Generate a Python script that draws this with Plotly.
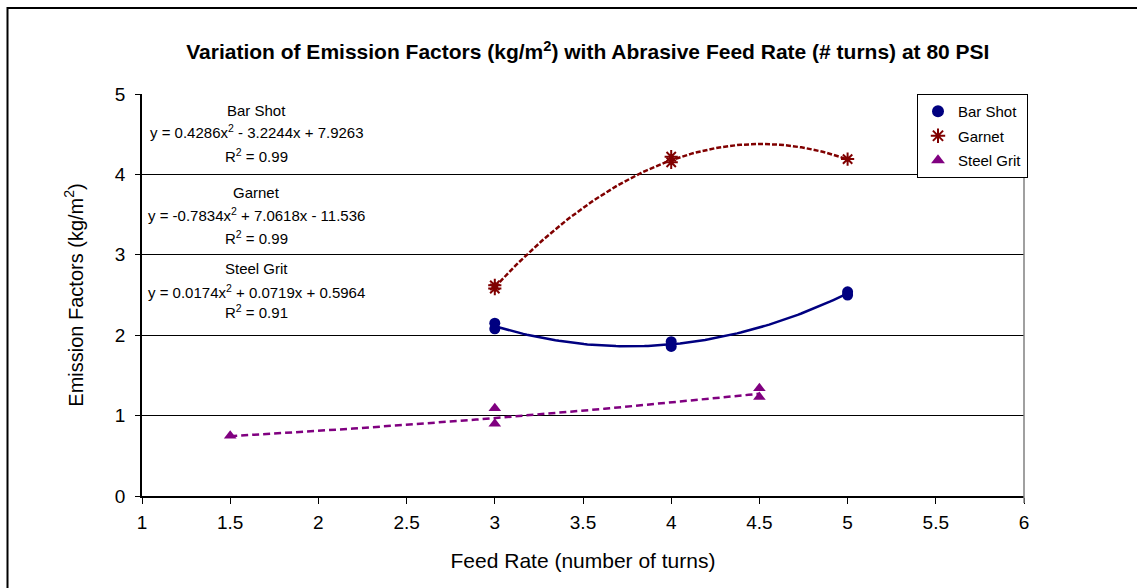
import numpy as np
import plotly.graph_objects as go

# ---- data ----
bar_x = [3, 3, 4, 4, 5, 5]
bar_y = [2.15, 2.08, 1.92, 1.86, 2.54, 2.50]
garnet_x = [3, 3, 4, 4, 5]
garnet_y = [2.62, 2.58, 4.22, 4.15, 4.19]
steel_x = [1.5, 3, 3, 4.5, 4.5]
steel_y = [0.75, 1.09, 0.90, 1.34, 1.23]

# trendline coefficients (from the chart's equations): a x^2 + b x + c
bar_coef = [0.4286, -3.2244, 7.9263]
garnet_coef = [-0.7834, 7.0618, -11.536]
steel_coef = [0.0174, 0.0719, 0.5964]

eq_labels = [
    ("Bar Shot", "y = 0.4286x<sup>2</sup> - 3.2244x + 7.9263", "R<sup>2</sup> = 0.99"),
    ("Garnet", "y = -0.7834x<sup>2</sup> + 7.0618x - 11.536", "R<sup>2</sup> = 0.99"),
    ("Steel Grit", "y = 0.0174x<sup>2</sup> + 0.0719x + 0.5964", "R<sup>2</sup> = 0.91"),
]
eq_y = [(4.79, 4.53, 4.24), (3.78, 3.50, 3.22), (2.83, 2.54, 2.29)]

FONT = "Arial, Liberation Sans, sans-serif"
NAVY = "#000080"
MAROON = "#800000"
PURPLE = "#800080"

fig = go.Figure()

def trend(coef, x0, x1):
    xs = np.linspace(x0, x1, 100)
    return xs, np.polyval(coef, xs)

tx, ty = trend(bar_coef, min(bar_x), max(bar_x))
fig.add_trace(go.Scatter(x=tx, y=ty, mode="lines", line=dict(color=NAVY, width=2.5),
                         showlegend=False, hoverinfo="skip"))
tx, ty = trend(garnet_coef, min(garnet_x), max(garnet_x))
fig.add_trace(go.Scatter(x=tx, y=ty, mode="lines", line=dict(color=MAROON, width=2.5, dash="5px,2px"),
                         showlegend=False, hoverinfo="skip"))
tx, ty = trend(steel_coef, min(steel_x), max(steel_x))
fig.add_trace(go.Scatter(x=tx, y=ty, mode="lines", line=dict(color=PURPLE, width=2.5, dash="7px,4px"),
                         showlegend=False, hoverinfo="skip"))

fig.add_trace(go.Scatter(x=bar_x, y=bar_y, mode="markers", name="Bar Shot", legendgroup="a",
                         marker=dict(symbol="circle", size=11, color=NAVY)))
fig.add_trace(go.Scatter(x=garnet_x, y=garnet_y, mode="markers", name="Garnet", legendgroup="b",
                         marker=dict(symbol="asterisk-open", size=11, color=MAROON,
                                     line=dict(color=MAROON, width=2))))
fig.add_trace(go.Scatter(x=steel_x, y=steel_y, mode="markers", name="Steel Grit", legendgroup="c",
                         marker=dict(symbol="triangle-up", size=11, color=PURPLE)))

annos = []
for (name, eq, r2), (y1, y2, y3) in zip(eq_labels, eq_y):
    for txt, yy in ((name, y1), (eq, y2), (r2, y3)):
        annos.append(dict(x=1.65, y=yy, xref="x", yref="y", text=txt, showarrow=False,
                          xanchor="center", yanchor="middle",
                          font=dict(family=FONT, size=15, color="black")))

L, R, T, B = 142, 113, 94, 92
W, H = 1137, 588
pw, ph = W - L - R, H - T - B

shapes = [
    # outer chart border
    dict(type="rect", xref="paper", yref="paper",
         x0=(7.5 - L) / pw, x1=(W + 10 - L) / pw,
         y0=-(H + 10 - (H - B)) / ph, y1=1 + (T - 8) / ph,
         line=dict(color="black", width=2), fillcolor="rgba(0,0,0,0)", layer="above"),
    # right plot-area border
    dict(type="line", xref="paper", yref="paper", x0=1, x1=1, y0=-7 / ph, y1=1,
         line=dict(color="#808080", width=1.5)),
]

fig.update_layout(
    width=W, height=H,
    margin=dict(l=L, r=R, t=T, b=B),
    paper_bgcolor="white", plot_bgcolor="white",
    font=dict(family=FONT, color="black"),
    title=dict(text="<b>Variation of Emission Factors (kg/m<sup>2</sup>) with Abrasive Feed Rate (# turns) at 80 PSI</b>",
               x=0.517, xref="container", xanchor="center",
               y=1 - 52 / H, yref="container", yanchor="middle",
               font=dict(family=FONT, size=21, color="black")),
    xaxis=dict(range=[1, 6], dtick=0.5, tick0=1, showgrid=False, zeroline=False,
               showline=True, linecolor="black", linewidth=1.5,
               ticks="outside", ticklen=6, tickcolor="black", ticklabelstandoff=2,
               tickfont=dict(size=19), title=dict(text="Feed Rate (number of turns)",
                                                  font=dict(size=21), standoff=22)),
    yaxis=dict(range=[0, 5], dtick=1, showgrid=True, gridcolor="black", gridwidth=1,
               zeroline=False, showline=True, linecolor="black", linewidth=1.5,
               ticks="outside", ticklen=5, tickcolor="black", ticklabelstandoff=6,
               tickfont=dict(size=19), title=dict(text="Emission Factors (kg/m<sup>2</sup>)",
                                                  font=dict(size=20), standoff=26)),
    legend=dict(x=(917 - L) / pw, y=1.0, xanchor="left", yanchor="top",
                bgcolor="white", bordercolor="black", borderwidth=1,
                font=dict(size=15), tracegroupgap=2, itemsizing="constant"),
    annotations=annos,
    shapes=shapes,
    showlegend=True,
)

fig.write_html("out.html")
